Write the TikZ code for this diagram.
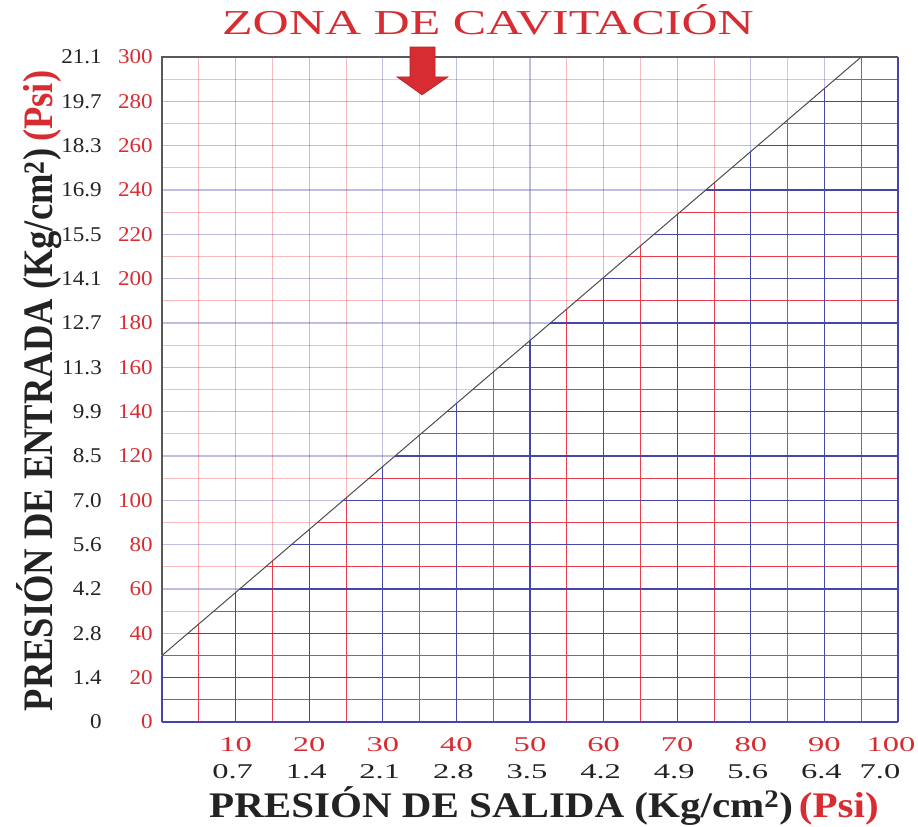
\documentclass[tikz,border=0pt]{standalone}
\usepackage{fontspec}
\setmainfont{Liberation Serif}
\newfontfamily\zonafont[FakeStretch=1.43]{Liberation Serif}
\newfontfamily\tickxfont[FakeStretch=1.55]{Liberation Serif}
\newfontfamily\tickyfont[FakeStretch=1.1]{Liberation Serif}
\newfontfamily\salidafont[FakeStretch=1.14]{Liberation Serif}
\newfontfamily\entradafont[FakeStretch=0.87]{Liberation Serif}
\usetikzlibrary{calc}

\definecolor{gridred}{RGB}{235,60,75}
\definecolor{gridblue}{RGB}{70,70,170}
\definecolor{labelred}{RGB}{215,45,50}
\definecolor{labelblack}{RGB}{35,35,35}

\tikzset{
  redline/.style={gridred, line width=1pt},
  blueline/.style={gridblue, line width=1.3pt},
  frameline/.style={black!65, line width=1.3pt},
  cavline/.style={black!70, line width=1pt},
  psilabel/.style={labelred, inner sep=0pt, font=\tickyfont\fontsize{21}{21}\selectfont},
  kglabel/.style={labelblack, inner sep=0pt, font=\tickyfont\fontsize{21}{21}\selectfont},
  psixlabel/.style={labelred, inner sep=0pt, font=\tickxfont\fontsize{21}{21}\selectfont},
  kgxlabel/.style={labelblack, inner sep=0pt, font=\tickxfont\fontsize{21}{21}\selectfont},
  axistitle/.style={labelblack, inner sep=0pt, anchor=base}
}

\newcommand{\presiongrid}{%
  \foreach \x in {5,15,...,95}
    \draw[redline] (\x,0) -- (\x,300);
  \foreach \y in {10,30,...,290}
    \draw[redline] (0,\y) -- (100,\y);
  \foreach \x in {0,10,...,100}
    \draw[blueline] (\x,0) -- (\x,300);
  \foreach \y in {0,20,...,280}
    \draw[blueline] (0,\y) -- (100,\y);
}

\begin{document}
\begin{tikzpicture}[x=7.36pt, y=2.2167pt]
\useasboundingbox (-162pt,-105pt) rectangle (756pt,722pt);

% faded grid in the cavitation zone
\begin{scope}[opacity=0.35]
  \presiongrid
\end{scope}

% full grid below the line
\begin{scope}
  \clip (-1,-3) -- (-1,27.16) -- (96.06,303) -- (101,303) -- (101,-3) -- cycle;
  \presiongrid
\end{scope}

\draw[frameline] (0,30) -- (0,300) -- (100,300);

\coordinate (lo) at (0,30);
\coordinate (hi) at (95,300);
\draw[cavline] (lo) -- (hi);

% arrow
\fill[labelred, draw=labelred!80!black, line width=0.6pt]
  (33.7,304.5) -- (37.1,304.5) -- (37.1,291) -- (38.86,291) -- (35.33,282.9)
  -- (31.93,291) -- (33.7,291) -- cycle;

\node[labelred, inner sep=0pt, anchor=base, font=\zonafont\fontsize{35}{35}\selectfont]
  (zona) at (326pt,687pt) {ZONA DE CAVITACIÓN};

\foreach \p/\k in {0/0,20/1.4,40/2.8,60/4.2,80/5.6,100/7.0,120/8.5,140/9.9,160/11.3,
                   180/12.7,200/14.1,220/15.5,240/16.9,260/18.3,280/19.7,300/21.1}{
  \node[psilabel, anchor=east] (in\p) at ([xshift=-9pt]0,\p) {\p};
  \node[kglabel, anchor=east] (inkg\p) at ([xshift=-60pt]0,\p) {\k};
}

\foreach \p/\k in {10/0.7,20/1.4,30/2.1,40/2.8,50/3.5,60/4.2,70/4.9,80/5.6,90/6.4}{
  \node[psixlabel] (out\p) at ([yshift=-23pt]\p,0) {\p};
  \node[kgxlabel] (outkg\p) at ([xshift=-3pt,yshift=-50pt]\p,0) {\k};
}
\node[psixlabel] (out100) at ([xshift=-7pt,yshift=-23pt]100,0) {100};
\node[kgxlabel] (outkg100) at ([xshift=-18pt,yshift=-50pt]100,0) {7.0};

\node[axistitle, font=\salidafont\bfseries\fontsize{36}{36}\selectfont]
  (salida) at (382pt,-95pt)
  {PRESIÓN DE SALIDA (Kg/cm\textsuperscript{2})\,\textcolor{labelred}{(Psi)}};
\node[axistitle, rotate=90, font=\entradafont\bfseries\fontsize{42}{42}\selectfont]
  (entrada) at (-109pt,331pt)
  {PRESIÓN DE ENTRADA (Kg/cm\textsuperscript{2})\,\textcolor{labelred}{(Psi)}};

\end{tikzpicture}
\end{document}
